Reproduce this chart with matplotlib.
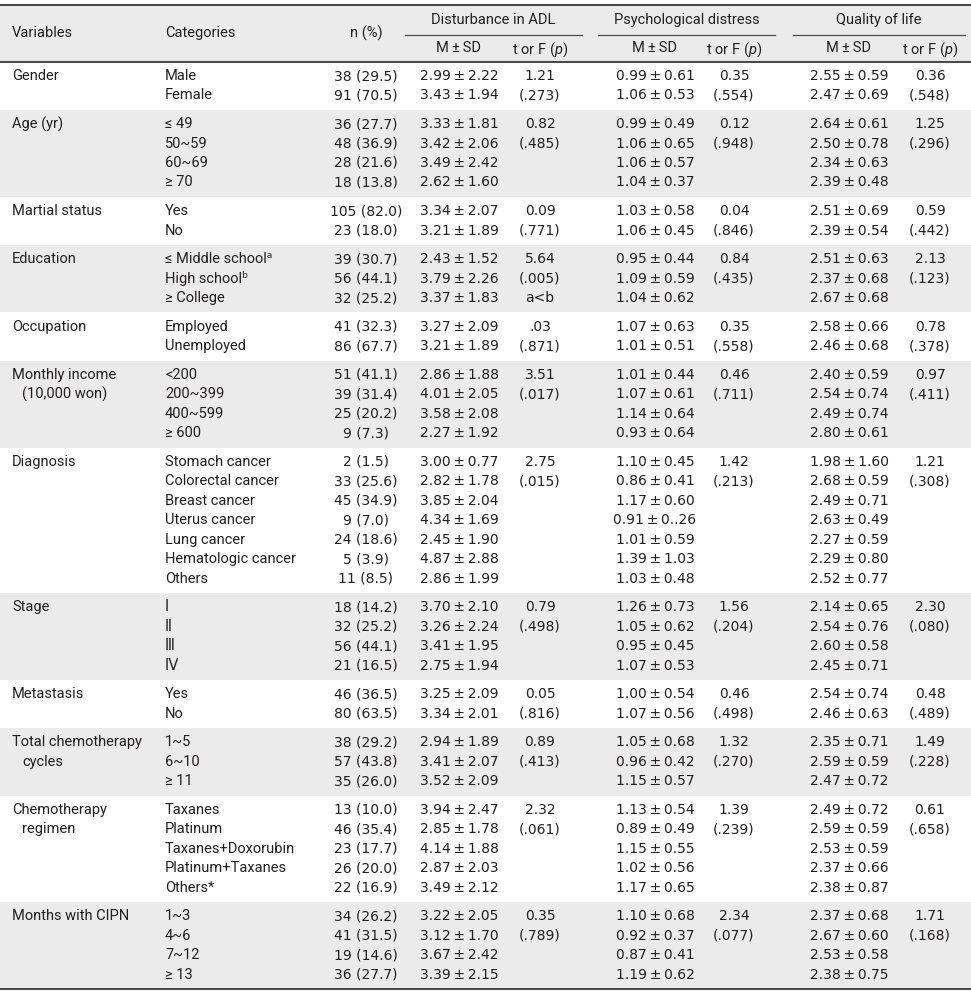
import matplotlib.pyplot as plt
from matplotlib.patches import Rectangle

plt.rcParams['font.family'] = ['Roboto', 'DejaVu Sans']
plt.rcParams['mathtext.fontset'] = 'custom'
plt.rcParams['mathtext.rm'] = 'Roboto'
plt.rcParams['mathtext.it'] = 'Roboto:italic'

variables = [["Gender"], ["Age (yr)"], ["Martial status"], ["Education"], ["Occupation"],
             ["Monthly income", "(10,000 won)"], ["Diagnosis"], ["Stage"], ["Metastasis"],
             ["Total chemotherapy", "cycles"], ["Chemotherapy", "regimen"], ["Months with CIPN"]]

categories = [
    ["Male", "Female"],
    ["≤ 49", "50~59", "60~69", "≥ 70"],
    ["Yes", "No"],
    ["≤ Middle school\u1d43", "High school\u1d47", "≥ College"],
    ["Employed", "Unemployed"],
    ["<200", "200~399", "400~599", "≥ 600"],
    ["Stomach cancer", "Colorectal cancer", "Breast cancer", "Uterus cancer",
     "Lung cancer", "Hematologic cancer", "Others"],
    ["\u2160", "\u2161", "\u2162", "\u2163"],
    ["Yes", "No"],
    ["1~5", "6~10", "≥ 11"],
    ["Taxanes", "Platinum", "Taxanes+Doxorubin", "Platinum+Taxanes", "Others*"],
    ["1~3", "4~6", "7~12", "≥ 13"],
]

n_pct = [
    ["38 (29.5)", "91 (70.5)"],
    ["36 (27.7)", "48 (36.9)", "28 (21.6)", "18 (13.8)"],
    ["105 (82.0)", "23 (18.0)"],
    ["39 (30.7)", "56 (44.1)", "32 (25.2)"],
    ["41 (32.3)", "86 (67.7)"],
    ["51 (41.1)", "39 (31.4)", "25 (20.2)", "9 (7.3)"],
    ["2 (1.5)", "33 (25.6)", "45 (34.9)", "9 (7.0)", "24 (18.6)", "5 (3.9)", "11 (8.5)"],
    ["18 (14.2)", "32 (25.2)", "56 (44.1)", "21 (16.5)"],
    ["46 (36.5)", "80 (63.5)"],
    ["38 (29.2)", "57 (43.8)", "35 (26.0)"],
    ["13 (10.0)", "46 (35.4)", "23 (17.7)", "26 (20.0)", "22 (16.9)"],
    ["34 (26.2)", "41 (31.5)", "19 (14.6)", "36 (27.7)"],
]

adl_msd = [
    ["2.99±2.22", "3.43±1.94"],
    ["3.33±1.81", "3.42±2.06", "3.49±2.42", "2.62±1.60"],
    ["3.34±2.07", "3.21±1.89"],
    ["2.43±1.52", "3.79±2.26", "3.37±1.83"],
    ["3.27±2.09", "3.21±1.89"],
    ["2.86±1.88", "4.01±2.05", "3.58±2.08", "2.27±1.92"],
    ["3.00±0.77", "2.82±1.78", "3.85±2.04", "4.34±1.69", "2.45±1.90", "4.87±2.88", "2.86±1.99"],
    ["3.70±2.10", "3.26±2.24", "3.41±1.95", "2.75±1.94"],
    ["3.25±2.09", "3.34±2.01"],
    ["2.94±1.89", "3.41±2.07", "3.52±2.09"],
    ["3.94±2.47", "2.85±1.78", "4.14±1.88", "2.87±2.03", "3.49±2.12"],
    ["3.22±2.05", "3.12±1.70", "3.67±2.42", "3.39±2.15"],
]
adl_t = [["1.21", "(.273)"], ["0.82", "(.485)"], ["0.09", "(.771)"], ["5.64", "(.005)", "a<b"],
         [".03", "(.871)"], ["3.51", "(.017)"], ["2.75", "(.015)"], ["0.79", "(.498)"],
         ["0.05", "(.816)"], ["0.89", "(.413)"], ["2.32", "(.061)"], ["0.35", "(.789)"]]

psy_msd = [
    ["0.99±0.61", "1.06±0.53"],
    ["0.99±0.49", "1.06±0.65", "1.06±0.57", "1.04±0.37"],
    ["1.03±0.58", "1.06±0.45"],
    ["0.95±0.44", "1.09±0.59", "1.04±0.62"],
    ["1.07±0.63", "1.01±0.51"],
    ["1.01±0.44", "1.07±0.61", "1.14±0.64", "0.93±0.64"],
    ["1.10±0.45", "0.86±0.41", "1.17±0.60", "0.91±0..26", "1.01±0.59", "1.39±1.03", "1.03±0.48"],
    ["1.26±0.73", "1.05±0.62", "0.95±0.45", "1.07±0.53"],
    ["1.00±0.54", "1.07±0.56"],
    ["1.05±0.68", "0.96±0.42", "1.15±0.57"],
    ["1.13±0.54", "0.89±0.49", "1.15±0.55", "1.02±0.56", "1.17±0.65"],
    ["1.10±0.68", "0.92±0.37", "0.87±0.41", "1.19±0.62"],
]
psy_t = [["0.35", "(.554)"], ["0.12", "(.948)"], ["0.04", "(.846)"], ["0.84", "(.435)"],
         ["0.35", "(.558)"], ["0.46", "(.711)"], ["1.42", "(.213)"], ["1.56", "(.204)"],
         ["0.46", "(.498)"], ["1.32", "(.270)"], ["1.39", "(.239)"], ["2.34", "(.077)"]]

qol_msd = [
    ["2.55±0.59", "2.47±0.69"],
    ["2.64±0.61", "2.50±0.78", "2.34±0.63", "2.39±0.48"],
    ["2.51±0.69", "2.39±0.54"],
    ["2.51±0.63", "2.37±0.68", "2.67±0.68"],
    ["2.58±0.66", "2.46±0.68"],
    ["2.40±0.59", "2.54±0.74", "2.49±0.74", "2.80±0.61"],
    ["1.98±1.60", "2.68±0.59", "2.49±0.71", "2.63±0.49", "2.27±0.59", "2.29±0.80", "2.52±0.77"],
    ["2.14±0.65", "2.54±0.76", "2.60±0.58", "2.45±0.71"],
    ["2.54±0.74", "2.46±0.63"],
    ["2.35±0.71", "2.59±0.59", "2.47±0.72"],
    ["2.49±0.72", "2.59±0.59", "2.53±0.59", "2.37±0.66", "2.38±0.87"],
    ["2.37±0.68", "2.67±0.60", "2.53±0.58", "2.38±0.75"],
]
qol_t = [["0.36", "(.548)"], ["1.25", "(.296)"], ["0.59", "(.442)"], ["2.13", "(.123)"],
         ["0.78", "(.378)"], ["0.97", "(.411)"], ["1.21", "(.308)"], ["2.30", "(.080)"],
         ["0.48", "(.489)"], ["1.49", "(.228)"], ["0.61", "(.658)"], ["1.71", "(.168)"]]

group_titles = ["Disturbance in ADL", "Psychological distress", "Quality of life"]


def main():
    W, H = 971, 991
    fig = plt.figure(figsize=(W / 100, H / 100), dpi=100)
    ax = fig.add_axes([0, 0, 1, 1])
    ax.set_xlim(0, W)
    ax.set_ylim(H, 0)
    ax.axis('off')

    txt = '#231f20'
    shade = '#ebebeb'
    line = '#4a4a4a'
    fs = 10.5
    lab = dict(fontsize=fs, color=txt, va='center_baseline')
    num = dict(fontsize=10, family=['DejaVu Sans'], color=txt, va='center_baseline', ha='center')
    pm = '\u2009±\u2009'
    dy = -1.5  # nudge text up a little inside its row

    x_var, x_cat, x_n = 12, 165, 366
    x_cols = [459, 540, 655, 734, 849, 930]
    spans = [(405, 582), (598, 775), (793, 965)]

    top, head_bot = 5, 62
    row_h, gap = 19.45, 9.2
    half = (row_h + gap) / 2

    # header
    ax.add_patch(Rectangle((0, top), W, head_bot - top, color=shade, lw=0, zorder=0))
    ax.text(x_var, 33 + dy, "Variables", **lab)
    ax.text(x_cat, 33 + dy, "Categories", **lab)
    ax.text(x_n, 33 + dy, "n (%)", ha='center', **lab)
    for i, (title, (a, b)) in enumerate(zip(group_titles, spans)):
        ax.text((a + b) / 2, 20 + dy, title, ha='center', **lab)
        ax.plot([a, b], [35, 35], color=line, lw=0.9)
        ax.text(x_cols[2 * i], 48.5 + dy, "M" + pm + "SD", ha='center', **lab)
        ax.text(x_cols[2 * i + 1], 48.5 + dy, "t or F ($\\it{p}$)", ha='center', **lab)

    # body
    y = 76
    for g in range(len(variables)):
        n = len(categories[g])
        y_first = y
        y_last = y + (n - 1) * row_h
        if g % 2 == 1:
            ax.add_patch(Rectangle((0, y_first - half), W, y_last - y_first + 2 * half,
                                   color=shade, lw=0, zorder=0))
        for k, label in enumerate(variables[g]):
            ax.text(x_var + (10 if k else 0), y_first + k * row_h + dy, label, **lab)
        cols = [adl_msd[g], adl_t[g], psy_msd[g], psy_t[g], qol_msd[g], qol_t[g]]
        for r in range(n):
            yy = y_first + r * row_h + dy
            ax.text(x_cat, yy, categories[g][r], **lab)
            ax.text(x_n, yy, n_pct[g][r], **num)
            for xc, col in zip(x_cols, cols):
                if r < len(col):
                    ax.text(xc, yy, col[r].replace('±', pm), **num)
        y = y_last + row_h + gap
    bottom = y - row_h - gap + half

    ax.plot([0, W], [top, top], color=line, lw=1.5)
    ax.plot([0, W], [head_bot, head_bot], color=line, lw=1.5)
    ax.plot([0, W], [bottom, bottom], color=line, lw=1.5)

    fig.savefig('out.png', dpi=100)


if __name__ == '__main__':
    main()
